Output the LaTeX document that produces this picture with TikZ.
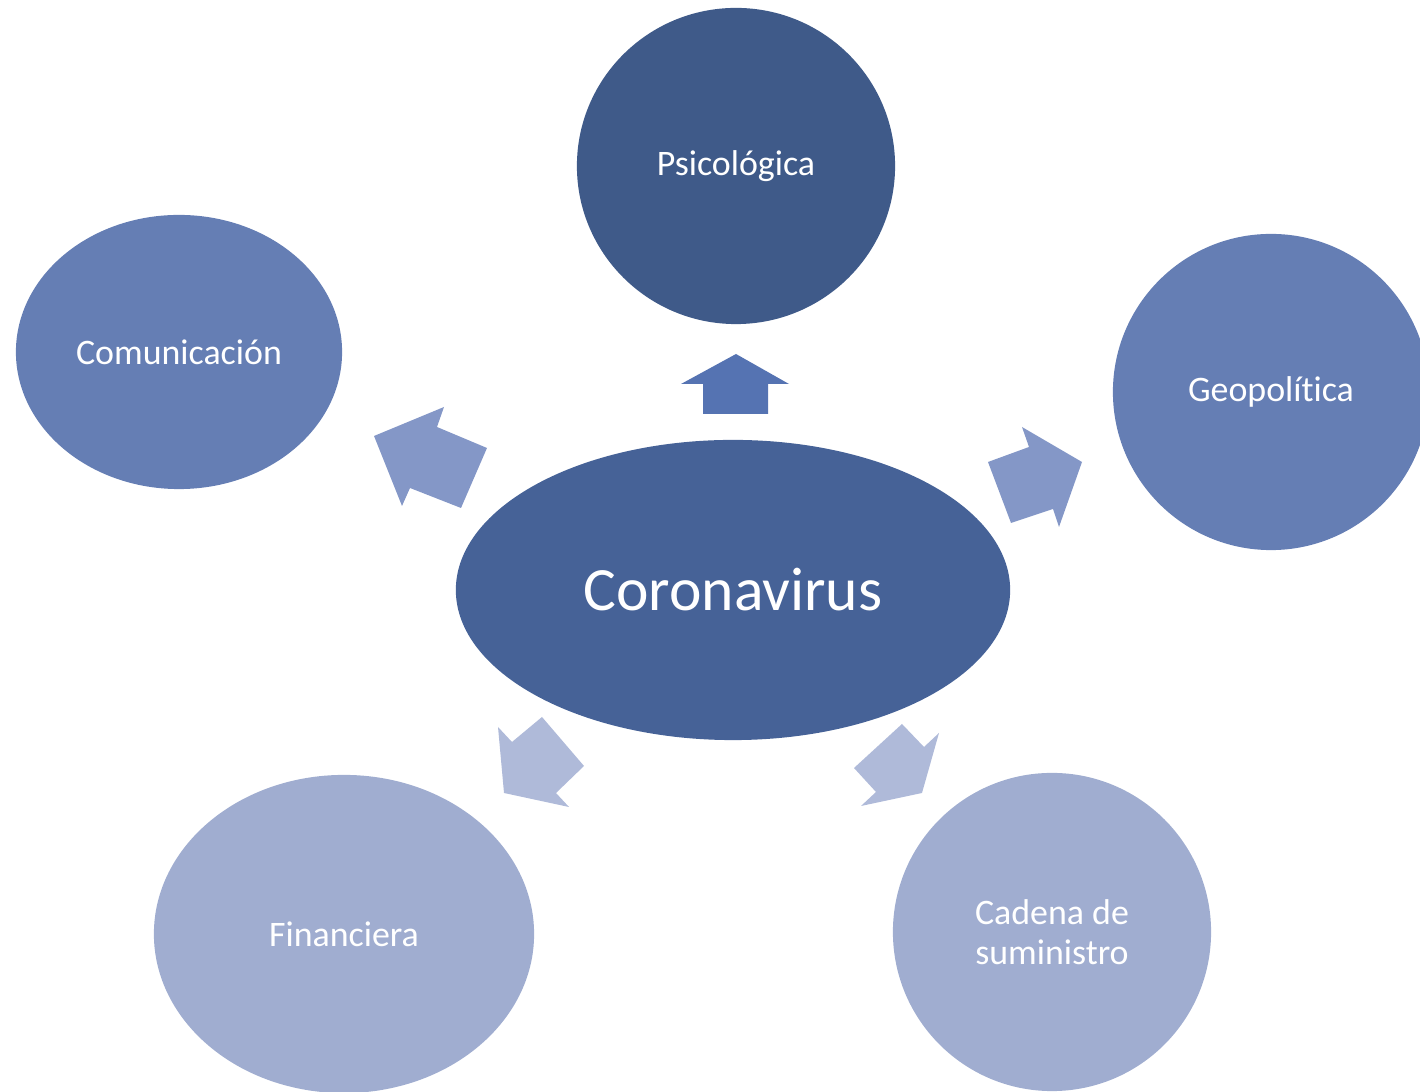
\documentclass[tikz,border=0pt]{standalone}
\usepackage{fontspec}
\setmainfont{Carlito}[RawFeature={-liga;-clig;-dlig}]
\usetikzlibrary{shapes.geometric}
\definecolor{corefill}{HTML}{466297}
\definecolor{darkfill}{HTML}{3F5A89}
\definecolor{midfill}{HTML}{657EB4}
\definecolor{lightfill}{HTML}{A0ADD0}
\definecolor{uparrowfill}{HTML}{5573B2}
\definecolor{sidearrowfill}{HTML}{8497C7}
\definecolor{lowarrowfill}{HTML}{AFBAD9}
\tikzstyle{bubble} = [ellipse, text=white, inner sep=0pt, align=center, font=\fontsize{10.2}{11.2}\selectfont]
\tikzstyle{uparrow} = [fill=uparrowfill]
\tikzstyle{sidearrow} = [fill=sidearrowfill]
\tikzstyle{lowarrow} = [fill=lowarrowfill]

\begin{document}
\begin{tikzpicture}[x=0.01cm,y=-0.01cm]

\useasboundingbox (0,0) rectangle (1420,1092);
\clip (0,0) rectangle (1420,1092);

\node[bubble,fill=corefill,minimum width=5.54cm,minimum height=3.0cm,font=\fontsize{17.5}{21}\selectfont](corona) at (733,590){Coronavirus};
\node[bubble,fill=darkfill,minimum width=3.18cm,minimum height=3.16cm](psico) at (736,166){Psicológica};
\node[bubble,fill=midfill,minimum width=3.26cm,minimum height=2.74cm](comun) at (179,352){Comunicación};
\node[bubble,fill=midfill,minimum width=3.16cm,minimum height=3.16cm](geo) at (1271,392){Geopolítica};
\node[bubble,fill=lightfill,minimum width=3.80cm,minimum height=3.18cm](finan) at (344,934){Financiera};
\node[bubble,fill=lightfill,minimum width=3.18cm,minimum height=3.18cm](cadena) at (1052,932){Cadena de\\suministro};

% arrows out of the centre
\fill[uparrow] (736,354) -- (789,384) -- (768,384) -- (768,414) -- (703,414) -- (703,384) -- (681,384) -- cycle;
\fill[sidearrow] (374,436) -- (444,407) -- (437,427) -- (487,448) -- (461,508) -- (410,488) -- (402,506) -- cycle;
\fill[sidearrow] (1082,462) -- (1059,527) -- (1053,509) -- (1011,523) -- (988,462) -- (1029,447) -- (1022,427) -- cycle;
\fill[lowarrow] (504,793) -- (498,727) -- (512,742) -- (542,717) -- (584,766) -- (556,793) -- (569,807) -- cycle;
\fill[lowarrow] (922,793) -- (861,806) -- (876,792) -- (854,768) -- (902,724) -- (924,747) -- (939,733) -- cycle;

\end{tikzpicture}
\end{document}
